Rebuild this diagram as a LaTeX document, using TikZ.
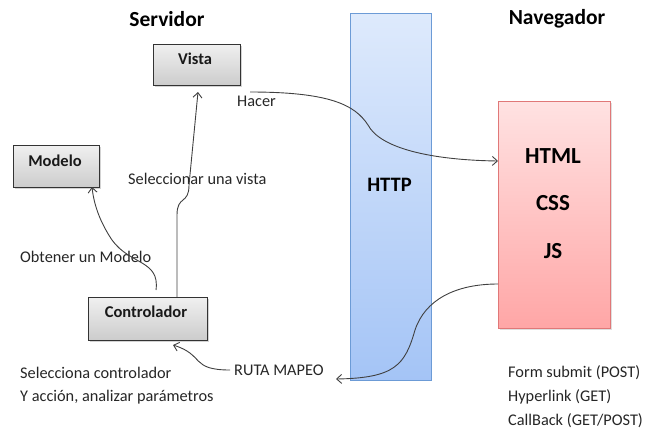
\documentclass[tikz,border=0pt]{standalone}
\usepackage{fontspec}
\setmainfont{Carlito}
\usetikzlibrary{shadows,arrows.meta}
\begin{document}
\begin{tikzpicture}[x=1pt,y=-1pt,
  gbox/.style={draw=black!80, line width=0.8pt, top color=gray!12, bottom color=gray!40,
    drop shadow={shadow xshift=1.5pt, shadow yshift=-1.5pt, opacity=0.35},
    anchor=north west, inner sep=0pt},
  btxt/.style={font=\bfseries\fontsize{16.5}{19}\selectfont, inner sep=0pt, text=black!90},
  lbl/.style={font=\fontsize{16.3}{19}\selectfont, anchor=west, inner sep=0pt, text=black!85},
  ttl/.style={font=\bfseries\fontsize{21.5}{24}\selectfont, inner sep=0pt},
  big/.style={font=\bfseries\fontsize{23}{26}\selectfont, inner sep=0pt},
  conn/.style={draw=black!75, line width=0.9pt, -{Straight Barb[length=5pt,width=9pt]}}]
\useasboundingbox (0,0) rectangle (652,429);
% titles
\node[ttl] (srv) at (167,19) {Servidor};
\node[ttl] (nav) at (557,19) {Navegador};
% HTTP bar
\node[draw={rgb,255:red,108;green,155;blue,214}, line width=0.8pt,
  top color={rgb,255:red,222;green,234;blue,252}, bottom color={rgb,255:red,164;green,196;blue,246},
  minimum width=81pt, minimum height=367pt, anchor=north west, inner sep=0pt] (http) at (350,13) {};
\node[font=\bfseries\fontsize{20.5}{23}\selectfont, inner sep=0pt] (httpt) at (389.5,185) {HTTP};
% Browser box
\node[draw={rgb,255:red,224;green,120;blue,120}, line width=0.8pt,
  top color={rgb,255:red,255;green,226;blue,226}, bottom color={rgb,255:red,255;green,166;blue,166},
  drop shadow={shadow xshift=1.5pt, shadow yshift=-1.5pt, opacity=0.25},
  minimum width=112pt, minimum height=227pt, anchor=north west, inner sep=0pt] (brw) at (498,101) {};
\node[big] (html) at (553,156) {HTML};
\node[big] (css) at (553,203) {CSS};
\node[big] (js) at (553,251) {JS};
% server boxes
\node[gbox, minimum width=87pt, minimum height=41pt] (vista) at (153,44) {};
\node[btxt] (vistat) at (195,59) {Vista};
\node[gbox, minimum width=86pt, minimum height=42pt] (modelo) at (13,145) {};
\node[btxt] (modelot) at (55,161) {Modelo};
\node[gbox, minimum width=119pt, minimum height=43pt] (ctrl) at (88,297) {};
\node[btxt] (ctrlt) at (146,312) {Controlador};
% labels
\node[lbl] (hacer) at (237,101) {Hacer};
\node[lbl] (selv) at (128,179) {Seleccionar una vista};
\node[lbl] (obt) at (20,257) {Obtener un Modelo};
\node[lbl] (selc) at (20,373) {Selecciona controlador};
\node[lbl] (yacc) at (20,397) {Y acción, analizar parámetros};
\node[lbl] (ruta) at (234,370) {RUTA MAPEO};
\node[lbl] (form) at (508,373) {Form submit (POST)};
\node[lbl] (hyp) at (508,397) {Hyperlink (GET)};
\node[lbl] (cb) at (508,421) {CallBack (GET/POST)};
% anchors for connectors
\coordinate (hs) at (250,92);
\coordinate (ce) at (498,161);
\coordinate (ctop1) at (177,297);
\coordinate (vbot) at (198,92);
\coordinate (ctop2) at (156,290);
\coordinate (mbot) at (92,187);
\coordinate (rs) at (230,370);
\coordinate (cbot) at (173,345);
\coordinate (bs) at (498,284);
\coordinate (re) at (336,379);
% connectors
\draw[conn] (hs) .. controls (330,92) and (355,105) .. (368,125)
  .. controls (380,148) and (430,160) .. (ce);
\draw[conn] (ctop1) -- (177,215) .. controls (177,195) and (189,205) .. (189,185)
  -- (vbot);
\draw[conn] (ctop2) .. controls (160,260) and (130,265) .. (112,240)
  .. controls (100,222) and (94,205) .. (mbot);
\draw[conn] (rs) .. controls (190,370) and (205,355) .. (cbot);
\draw[conn] (bs) .. controls (455,284) and (425,300) .. (415,330)
  .. controls (405,365) and (395,378) .. (re);
\end{tikzpicture}
\end{document}
